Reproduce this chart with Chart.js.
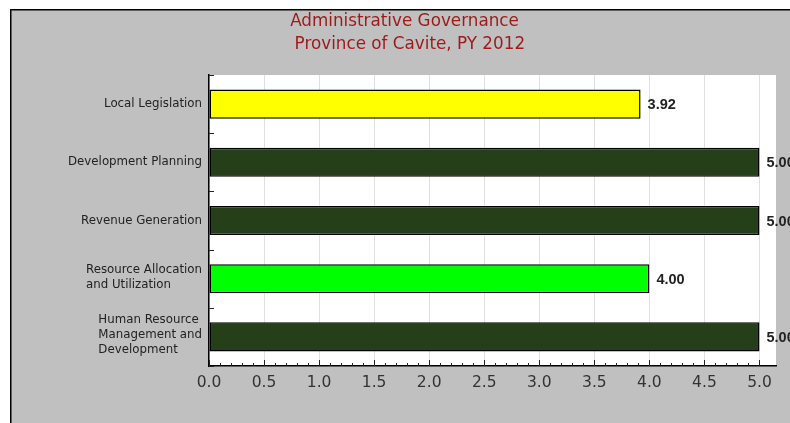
<!DOCTYPE html>
<html>
<head>
<meta charset="utf-8">
<script src="https://cdn.jsdelivr.net/npm/chart.js@4/dist/chart.umd.min.js"></script>
<style>
  html, body { margin: 0; padding: 0; background: #fff; }
  #wrap { width: 790px; height: 423px; }
</style>
</head>
<body>
<div id="wrap"><canvas id="c" width="790" height="423"></canvas></div>
<script>
const titleLines = ["Administrative Governance", "  Province of Cavite, PY 2012"];
const categories = [
  ["Local Legislation"],
  ["Development Planning"],
  ["Revenue Generation"],
  ["Resource Allocation", "and Utilization"],
  ["Human Resource ", "Management and", "Development"]
];
const values = [3.92, 5.00, 5.00, 4.00, 5.00];
const barColors = ["#FFFF00", "#253F19", "#253F19", "#00FF00", "#253F19"];
const xTicks = [0, 0.5, 1.0, 1.5, 2.0, 2.5, 3.0, 3.5, 4.0, 4.5, 5.0];
const xAxisMax = 5.15;

const labelFont = '11.8px "DejaVu Sans", Verdana, sans-serif';

const framePlugin = {
  id: 'frame',
  beforeDraw(chart) {
    const ctx = chart.ctx;
    const a = chart.chartArea;
    ctx.save();
    ctx.fillStyle = '#ffffff';
    ctx.fillRect(0, 0, chart.width, chart.height);
    ctx.fillStyle = '#C0C0C0';
    ctx.fillRect(10, 9, chart.width - 10, chart.height - 9);
    ctx.strokeStyle = '#000';
    ctx.lineWidth = 1.5;
    ctx.beginPath();
    ctx.moveTo(10.75, chart.height);
    ctx.lineTo(10.75, 9.75);
    ctx.lineTo(chart.width, 9.75);
    ctx.stroke();
    ctx.fillStyle = '#ffffff';
    ctx.fillRect(a.left, a.top, a.right - a.left, a.bottom - a.top);
    ctx.restore();
  },
  afterDatasetsDraw(chart) {
    const ctx = chart.ctx;
    const a = chart.chartArea;
    const xs = chart.scales.x;
    const ys = chart.scales.y;
    ctx.save();
    // minor / major ticks on bottom axis (inside)
    ctx.strokeStyle = '#222';
    ctx.lineWidth = 1;
    for (let i = 0; i <= 50; i++) {
      const v = i / 10;
      const px = Math.round(xs.getPixelForValue(v)) + 0.5;
      const len = (i % 5 === 0) ? 6 : 3;
      ctx.beginPath();
      ctx.moveTo(px, a.bottom);
      ctx.lineTo(px, a.bottom - len);
      ctx.stroke();
    }
    // category boundary ticks on left axis (inside)
    const n = categories.length;
    const step = (a.bottom - a.top) / n;
    for (let i = 0; i <= n; i++) {
      const py = Math.round(a.top + i * step) + 0.5;
      ctx.beginPath();
      ctx.moveTo(a.left, py);
      ctx.lineTo(a.left + 5, py);
      ctx.stroke();
    }
    // category labels: block left-aligned, right edge near axis
    ctx.fillStyle = '#222';
    ctx.font = labelFont;
    ctx.textAlign = 'left';
    ctx.textBaseline = 'middle';
    const lh = 15;
    categories.forEach((lines, i) => {
      const cy = ys.getPixelForValue(i) - (lines.length > 1 ? 1.5 : 0);
      const w = Math.max(...lines.map(l => ctx.measureText(l.trimEnd()).width));
      const x0 = a.left - 7 - w;
      lines.forEach((l, j) => {
        const y = cy + (j - (lines.length - 1) / 2) * lh;
        ctx.fillText(l, x0, y);
      });
    });
    // value labels
    ctx.fillStyle = '#222';
    ctx.font = 'bold 14.5px "Liberation Sans", Arial, sans-serif';
    ctx.textAlign = 'left';
    ctx.textBaseline = 'middle';
    const meta = chart.getDatasetMeta(0);
    meta.data.forEach((bar, i) => {
      ctx.fillText(values[i].toFixed(2), bar.x + 7, bar.y + 1);
    });
    ctx.restore();
  }
};

new Chart(document.getElementById('c'), {
  type: 'bar',
  data: {
    labels: categories,
    datasets: [{
      data: values,
      backgroundColor: barColors,
      borderColor: '#000',
      borderWidth: 1.5,
      borderSkipped: false,
      barPercentage: 0.5,
      categoryPercentage: 1.0
    }]
  },
  options: {
    indexAxis: 'y',
    responsive: false,
    animation: false,
    devicePixelRatio: 1,
    layout: { padding: { left: 33, right: 14, top: 10, bottom: 0 } },
    plugins: {
      legend: { display: false },
      tooltip: { enabled: false },
      title: {
        display: true,
        text: titleLines,
        color: '#9C1A1A',
        font: { family: '"DejaVu Sans", Verdana, sans-serif', size: 16.8, weight: 'normal', lineHeight: 1.37 },
        padding: { top: 0, bottom: 19 }
      }
    },
    scales: {
      x: {
        type: 'linear',
        min: 0,
        max: xAxisMax,
        afterBuildTicks(scale) {
          scale.ticks = xTicks.map(v => ({ value: v }));
        },
        afterFit(scale) { scale.height = 57; },
        ticks: {
          color: '#333',
          padding: 8,
          maxRotation: 0,
          autoSkip: false,
          font: { family: '"DejaVu Sans", Verdana, sans-serif', size: 15.5 },
          callback: (v) => Number(v).toFixed(1)
        },
        grid: { color: '#E0E0E0', lineWidth: 1, drawTicks: false },
        border: { color: '#000', width: 1.5 }
      },
      y: {
        type: 'category',
        afterFit(scale) { scale.width = 176; },
        ticks: { display: false },
        grid: { display: false, drawTicks: false },
        border: { color: '#000', width: 1.5 }
      }
    }
  },
  plugins: [framePlugin]
});
</script>
</body>
</html>
